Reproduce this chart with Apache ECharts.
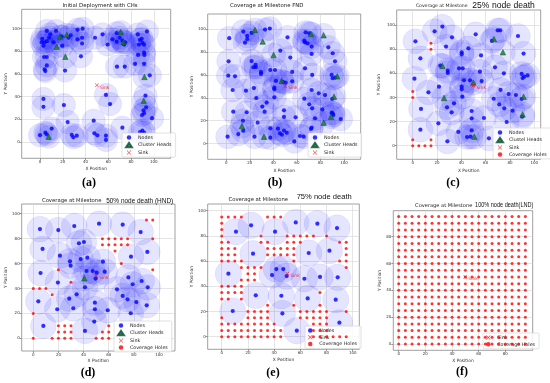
<!DOCTYPE html>
<html><head><meta charset="utf-8">
<script src="https://cdn.jsdelivr.net/npm/echarts@6/dist/echarts.min.js"></script>
<style>html,body{margin:0;padding:0;background:#fff}#c{width:550px;height:383px}</style>
</head><body><div id="c"></div>
<script>
// ---------------- data ----------------
const RADIUS = 10.3;
const sinkPos = [[50, 50]];
const ticks100 = [0, 20, 40, 60, 80, 100];
const ticks80 = [0, 20, 40, 60, 80];
const holeCols = [0,5,10,15,20,25,30,35,40,45,50,55,60,65,70,75,80,85,90,95];
const holeRows = [95,90,85,80,75,70,65,60,55,50,45,40,35,30,25,20,15,10,5,0];

const nodesA = [[6,98],[14,98],[9,95],[2,91],[1.5,88],[4,88],[6,89],[8,92],[3,85],[12,88],[19,93],[19.5,85],[25,92],[27,94],[33,99],[37.5,100],[33,90.6],[37,92],[37,87],[36,75.6],[3.5,75],[6,75],[6,67.6],[4,64],[4.7,62.6],[22,63],
[48.4,92],[55,95],[59.5,86],[63.6,90.6],[67.4,96],[67.4,88.5],[70,92],[72.4,89.4],[74,86],[75,88],[67.7,66.5],[74.5,66.5],
[86,95],[94,97.6],[87.7,90],[89.4,91],[90,87.6],[87,86],[91.5,85.9],[86.2,76.8],[91.5,78.8],[91.8,76.8],[83.6,69],[91.5,69],[96.5,58.8],
[92.7,40.9],[93.3,30.6],[91,28],[91.5,25.3],[89.7,23.8],[98.5,21],[88,8.8],[91.5,8.2],[90,10],
[3,38],[3,31],[21,32.6],[24.3,17.6],[58,41.5],[61.6,33.5],[47.2,18.8],[47.8,7.6],[50.4,5.9],[58,5.6],[58,1.8],[72.4,12.6],
[0,6],[4.7,8.2],[5.9,6.8],[10.3,11.8],[27.9,6.2],[29.3,4.1],[32.3,5.6]];
const headsA = [[14.7,84],[17.6,93],[23.5,94.7],[22.3,75.3],[7.6,4.7],[71,97],[73.3,88],[91.8,57.4],[91.2,36.5]];

const nodesB = [[2.5,91.9],[14.4,97.7],[17.8,93.9],[17.8,91],[15.9,88],[21.5,96.5],[32.9,99.4],[37,100.3],
[52,92.7],[67.4,97],[70.5,96.2],[66.3,89.8],[66.9,88.4],[69,87.5],[72.5,84.6],[86.7,84],
[2,71.8],[21.5,72],[24.9,68.6],[23,66.6],[25,66.6],[45.9,81.1],[54.4,75],[72.5,78.2],[90.4,78.8],[92.4,71.8],
[1.7,59.3],[7.4,58.7],[29.5,62.5],[29.5,60.8],[37.4,64.2],[41.4,64.2],[56,62.5],[66.9,65.7],[73,59.9],[89.5,59.9],[90.4,57],[92.6,57.6],
[42.2,54.7],[47.9,53.8],[50.4,53.2],[56,54.4],[40.8,48.8],[40.8,47.4],[23.5,48.5],[5.4,46.8],[16.7,46.2],[25.5,39.8],[40.8,40.4],
[72.5,46.8],[78.5,43.9],[83.9,42.4],[90,39],[66.3,39.2],[70.5,34.3],[73,30.8],[81.6,29.9],[89.5,27],[90.4,26.5],[91,25],[97.2,21.5],[75.4,22.1],[72.5,14],[72,12.8],
[30.6,32.3],[34.3,35.8],[32.6,27.9],[17.3,27.3],[5.9,27.9],[49,29.1],[49,23.3],[58.9,23],[14.2,20],[14.4,11.3],[10.2,8.4],[26.6,18.3],
[1.1,6.1],[24,6.1],[37.4,13.4],[37.4,5.2],[43.9,13.1],[45.6,9],[47.3,7.8],[49,11.3],[51.3,9.6],[57.8,2],[62.6,6.7],[65.7,6.1]];
const headsB = [[24.4,99.1],[30.9,89],[40.2,77.3],[47,54.7],[72,95.6],[82.7,94.5],[94.3,58.7],[91.5,41],[89,23.5],[82.7,18.3],[13.3,15.4],[32,6.1]];

const nodesC = [[2.2,86.7],[6.3,72.6],[1.4,55.7],[12.9,44.3],[6.8,30.5],[6.3,13.3],[28.5,3.6],
[18,95],[24.4,98.9],[32.3,90],[27.4,82.3],[51.8,92.5],[45.8,80.9],[40.3,77.6],[40.3,75.9],[56.2,75],[65.2,87],[69.9,95.8],[72,95.8],[86.6,91.1],[91.2,76.5],
[22.7,66.5],[28.8,62.3],[28.8,60.4],[38.1,64.3],[41.1,64.3],[55.3,61.5],[67.7,65.1],[75,60.1],[89.6,59.6],[90.4,56.2],[91.8,57.3],[94.5,58.4],
[21.6,49],[42.2,54.3],[47.1,54.3],[56.7,53.7],[40.3,49],[40.3,46.8],[40.8,40.7],[72.3,46.3],[66.6,39],[78.9,42.9],[84.9,42.1],[89.6,38.8],[71.2,34.3],[75.3,31],[82.2,29.1],[90.1,24.1],[77.3,19.7],
[28.2,31.9],[34,35.2],[32,27.7],[48.5,28.8],[48.5,22.7],[58.6,23],[21.1,18.6],[37.5,11.4],[48.5,12.7],[44.7,7.2],[47.7,7.5],[62.7,6.1]];
const headsC = [[66.8,88.6],[74.2,77.6],[24.4,66.2],[49.9,52.4],[25.8,39.6],[91.2,40.7],[90.4,26],[50.7,7.5]];
const holesC = [
"....................","....................","...x................","...x................","....................",
"....................","....................","....................","....................","....................",
"x...................","x...................","....................","....................","....................",
"....................","....................","....................","x..x................","xxxx................"];

const nodesD = [[5.3,87.7],[19.9,86.9],[32.6,90.1],[52.3,92],[71.1,91.2],[85.4,85.3],
[7.4,71.7],[21.2,66.3],[36.3,76.2],[40.3,77.3],[29.2,61.8],[29.7,58.3],[37.7,63.6],[43,64.7],[55.4,61.5],[77.7,65.5],[90.7,69.3],
[5.8,52.4],[42.4,54],[47.2,54],[50.4,52.7],[56.8,53.5],[49.6,47.9],[19.6,44.7],[41.1,40.9],[75.6,48.9],[79,43.3],[86.2,46],[91,40.9],[66.6,39.3],[34.5,35.3],[28.6,31.8],[31.8,24.1],[71.1,34],[75,31.3],[82,29.1],[90.2,26.5],[77.5,20.1],
[4,29.7],[19.1,23.3],[49,28.6],[49,23.3],[59.2,22.5],[48.5,13.4],[8,9.9],[41.1,5.9]];
const headsD = [[40.6,48.1]];
const holesD = [
"..................xx","....................","....................","...........xxxxx...x","...........xxxxx....",
".............x......","....................","..............x.....","....x..............x","....................",
"......x.............","xxx.................","...x................","....................","....................",
"x...................","....................","....xxx.....x.......","....xxx....xx.......","x..xxxx...xxx......."];

const nodesE = [[10.9,83.3],[22.4,88.4],[40.7,83.3],[56.5,90.7],[73,89.7],[88,86.2],[23.9,65.9],[66.4,66.4],[82.2,68.3],
[5.1,50],[38.4,48.9],[41.7,53.7],[47,53.7],[49.6,48.1],[63.1,46],[75,47.4],[88.5,47.1],
[26,32.8],[45.5,32.5],[65.6,30.4],[87,29.4],[8.4,20.4],[46.3,18.5],[57.3,4.8],[89.8,11.1]];
const holesE = [
"xxxx...xxx..........","x...................","x...................","x.....x...xxxxx.x...","xx....xx..xxx.....xx",
"xxx....xxxxx.......x","xxx....xxxxx.......x","xxxx.......x......xx","...xxxx............x","....xx..............",
"...xxx..............","xxxx................","xxxx...........x....","xx.x................",".......x...x...x....",
"....xxxx....xxxxx..x","x...xxxx....xxxxx...","xxxxxxxxx.....xxx...","xxxxxxxxxx....xxx...","xxxxxxxxxx....xxxxxx"];

const holesF = [
"xxxxxxxxxxxxxxxxxxxx","xxxxxxxxxxxxxxxxxxxx","xxxxxxxxxxxxxxxxxxxx","xxxxxxxxxxxxxxxxxxxx","xxxxxxxxxxxxxxxxxxxx",
"xxxxxxxxxxxxxxxxxxxx","xxxxxxxxxxxxxxxxxxxx","xxxxxxxxxxxxxxxxxxxx","xxxxxxxxxxxxxxxxxxxx","xxxxxxxxxxxxxxxxxxxx",
"xxxxxxxxxxxxxxxxxxxx","xxxxxxxxxxxxxxxxxxxx","xxxxxxxxxxxxxxxxxxxx","xxxxxxxxxxxxxxxxxxxx","xxxxxxxxxxxxxxxxxxxx",
"xxxxxxxxxxxxxxxxxxxx","xxxxxxxxxxxxxxxxxxxx","xxxxxxxxxxxxxxxxxxxx","xxxxxxxxxxxxxxxxxxxx","xxxxxxxxxxxxxxxxxxxx"];

const titlesSmall = ["Initial Deployment with CHs","Coverage at Milestone FND","Coverage at Milestone","Coverage at Milestone","Coverage at Milestone","Coverage at Milestone"];
const titlesBig = ["","","25% node death","50% node death (HND)","75% node death","100% node death(LND)"];
const panelLabels = ["(a)","(b)","(c)","(d)","(e)","(f)"];

// ---------------- layout ----------------
function parseHoles(rows){
  const out = [];
  if(!rows) return out;
  rows.forEach((r, i) => { for (let j = 0; j < r.length; j++) if (r[j] === 'x') out.push([holeCols[j], holeRows[i]]); });
  return out;
}
const panels = [
 {g:[21.7,9.3,149,149], x:[-16.1,114.9], y:[-14.4,117.1], t:ticks100, nodes:nodesA, heads:headsA, hn:'Cluster Heads', holes:null, lg:[122,133], xg:8.8, yg:13.5,
  ts:[100,6,5.4], tb:null, lab:[89,183]},
 {g:[207.7,14,153,145.3], x:[-15.8,114.2], y:[-13.6,113], t:ticks100, nodes:nodesB, heads:headsB, hn:'Cluster Heads', holes:null, lg:[308,133], xg:9.2, yg:13.8,
  ts:[266.7,6,5.4], tb:null, lab:[275,183]},
 {g:[396.7,10,144,149.3], x:[-13.2,105.3], y:[-11.3,112.7], t:ticks100, nodes:nodesC, heads:headsC, hn:'Clustel Heads', holes:holesC, lg:[493,128], xg:9.5, yg:16,
  ts:[441.7,5.5,4.6], tb:[503.6,5.2,8.6,1], lab:[453,183]},
 {g:[21.7,204,153.3,147], x:[-9.2,112.7], y:[-10.2,107.8], t:ticks100, nodes:nodesD, heads:headsD, hn:'Cluster Heads', holes:holesD, lg:[114,321], xg:7.8, yg:13.5,
  ts:[71.7,200.7,5.3], tb:[139.7,200.5,7.5,0.86], lab:[88,373]},
 {g:[207.7,204,151.6,145.3], x:[-10.7,105], y:[-10,105.3], t:ticks100, nodes:nodesE, heads:null, hn:null, holes:holesE, lg:[305,326], xg:8.5, yg:11.2,
  ts:[258.3,199.3,5.3], tb:[324.2,196.7,7.8,0.97], lab:[273,373]},
 {g:[393.3,210.7,139.4,139.6], x:[-4.05,100.5], y:[-4.7,99.4], t:ticks80, nodes:null, heads:null, hn:null, holes:holesF, lg:[483,333], xg:8.5, yg:10,
  ts:[443.7,206,5.1], tb:[504.2,205,7.5,0.74], lab:[462,372]}
];

const crossPath = 'path://M0,1L1,0L5,4L9,0L10,1L6,5L10,9L9,10L5,6L1,10L0,9L4,5Z';
const grids = [], xAxes = [], yAxes = [], series = [], legends = [], graphics = [];
const axisTxt = {fontSize:4, color:'#333', fontFamily:'DejaVu Sans'};

panels.forEach((p, i) => {
  grids.push({left:p.g[0], top:p.g[1], width:p.g[2], height:p.g[3], show:true, borderColor:'#888', borderWidth:0.8, backgroundColor:'transparent'});
  const mk = (rng, name, gap) => ({
    gridIndex:i, type:'value', min:rng[0], max:rng[1],
    axisLine:{show:false, onZero:false},
    axisTick:{show:true, length:2, customValues:p.t, lineStyle:{color:'#555', width:0.6}},
    axisLabel:{show:true, customValues:p.t, margin:2, ...axisTxt},
    splitLine:{show:true, customValues:p.t, lineStyle:{color:'#d3d3d3', width:0.6}},
    name:name, nameLocation:'middle', nameGap:gap, nameTextStyle:{fontSize:4.4, color:'#333', fontFamily:'DejaVu Sans'}
  });
  xAxes.push(mk(p.x, 'X Position', p.xg));
  yAxes.push(mk(p.y, 'Y Position', p.yg));

  const alive = [].concat(p.nodes || [], p.heads || []);
  const names = [];
  if (alive.length) {
    series.push({type:'custom', xAxisIndex:i, yAxisIndex:i, silent:true, clip:true, z:1, data:alive,
      renderItem:(params, api) => {
        const c = api.coord([api.value(0), api.value(1)]);
        const s = api.size([RADIUS, RADIUS]);
        return {type:'circle', shape:{cx:c[0], cy:c[1], r:(s[0]+s[1])/2},
          style:{fill:'rgba(0,0,255,0.1)', stroke:'rgba(0,0,255,0.1)', lineWidth:0.5}};
      }});
  }
  if (p.nodes) {
    series.push({type:'scatter', name:'Nodes', xAxisIndex:i, yAxisIndex:i, z:3, symbol:'circle', symbolSize:4.2,
      itemStyle:{color:'#0000ff'}, data:p.nodes, silent:true});
    names.push('Nodes');
  }
  if (p.heads) {
    series.push({type:'scatter', name:p.hn, xAxisIndex:i, yAxisIndex:i, z:4, symbol:'triangle', symbolSize:5.5,
      itemStyle:{color:'#137a1e', borderColor:'#0b4f3a', borderWidth:0.6}, data:p.heads, silent:true});
    names.push(p.hn);
  }
  series.push({type:'scatter', name:'Sink', xAxisIndex:i, yAxisIndex:i, z:5, symbol:crossPath, symbolSize:4,
    itemStyle:{color:'#ff0000'}, data:sinkPos, silent:true,
    label:{show:true, formatter:'Sink', position:'right', distance:1, offset:[0,2], fontSize:4.5, color:'#ff0000', fontFamily:'DejaVu Sans'}});
  names.push('Sink');
  if (p.holes) {
    series.push({type:'scatter', name:'Coverage Holes', xAxisIndex:i, yAxisIndex:i, z:4, symbol:'circle', symbolSize:3,
      itemStyle:{color:'#ff0000'}, data:parseHoles(p.holes), silent:true});
    names.push('Coverage Holes');
  }
  legends.push({data:names, left:p.lg[0], top:p.lg[1], orient:'vertical', itemWidth:6, itemHeight:4.5, itemGap:1.8,
    padding:[2,4,2,3], borderColor:'#cccccc', borderWidth:0.6, borderRadius:1.5, backgroundColor:'rgba(255,255,255,0.85)',
    selectedMode:false, textStyle:{fontSize:4.8, color:'#222', fontFamily:'DejaVu Sans', padding:[0,0,0,1]}});

  graphics.push({type:'text', x:p.ts[0], y:p.ts[1], z:10,
    style:{text:titlesSmall[i], fontSize:p.ts[2], fontFamily:'DejaVu Sans', fill:'#222', align:'center', verticalAlign:'middle'}});
  if (p.tb) graphics.push({type:'text', x:p.tb[0], y:p.tb[1], scaleX:p.tb[3], z:10,
    style:{text:titlesBig[i], fontSize:p.tb[2], fontFamily:'Liberation Sans', fill:'#111', align:'center', verticalAlign:'middle'}});
  graphics.push({type:'text', x:p.lab[0], y:p.lab[1], z:10,
    style:{text:panelLabels[i], fontSize:12, fontWeight:'bold', fontFamily:'Liberation Serif', fill:'#000', align:'center', verticalAlign:'middle'}});
});

const chart = echarts.init(document.getElementById('c'), null, {renderer:'canvas'});
chart.setOption({animation:false, backgroundColor:'#ffffff', grid:grids, xAxis:xAxes, yAxis:yAxes, series:series, legend:legends, graphic:graphics});
</script></body></html>
